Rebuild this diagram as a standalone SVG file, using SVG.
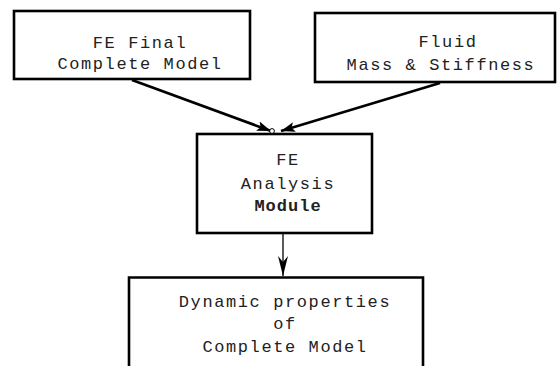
<svg xmlns="http://www.w3.org/2000/svg" width="558" height="366" viewBox="0 0 558 366">
  <style>
    .box { fill: #fff; stroke: #000; stroke-width: 2.6; }
    .lbl { font-family: "Liberation Mono", "Courier New", monospace; font-size: 17px; letter-spacing: 1.6px; fill: #222; text-anchor: middle; }
    .bold { font-weight: bold; letter-spacing: 1px; }
    .edge { stroke: #000; stroke-width: 2.6; fill: none; }
    .thin { stroke: #000; stroke-width: 1.3; fill: none; }
  </style>
  <defs>
    <marker id="head" viewBox="0 0 14 10" refX="14" refY="5" markerWidth="14" markerHeight="10" orient="auto" markerUnits="userSpaceOnUse">
      <path d="M0,0 L14,5 L0,10 L3,5 Z" fill="#000"/>
    </marker>
    <marker id="headThin" viewBox="0 0 20 10" refX="20" refY="5" markerWidth="20" markerHeight="10" orient="auto" markerUnits="userSpaceOnUse">
      <path d="M0,0 L20,5 L0,10 L6,5 Z" fill="#000"/>
    </marker>
  </defs>

  <g id="fe-final">
    <rect class="box" x="14" y="11" width="236" height="68"/>
    <text class="lbl" x="140" y="48">FE Final</text>
    <text class="lbl" x="140" y="69">Complete Model</text>
  </g>

  <g id="fluid">
    <rect class="box" x="315" y="13" width="240" height="69"/>
    <text class="lbl" x="448" y="47">Fluid</text>
    <text class="lbl" x="441" y="70">Mass &amp; Stiffness</text>
  </g>

  <g id="fe-analysis">
    <rect class="box" x="197" y="134" width="175" height="99"/>
    <text class="lbl" x="288" y="165">FE</text>
    <text class="lbl" x="288" y="189">Analysis</text>
    <text class="lbl bold" x="288" y="211">Module</text>
  </g>

  <g id="dynamic-properties">
    <path class="box" d="M129,366 V277.5 H423 V366"/>
    <text class="lbl" x="285" y="307">Dynamic properties</text>
    <text class="lbl" x="285" y="329">of</text>
    <text class="lbl" x="285" y="352">Complete Model</text>
  </g>

  <g id="connectors">
    <line class="edge" x1="132" y1="80" x2="271" y2="131" marker-end="url(#head)"/>
    <line class="edge" x1="440" y1="83" x2="281" y2="131" marker-end="url(#head)"/>
    <circle cx="272" cy="131" r="2.4" fill="#fff" stroke="#000" stroke-width="1"/>
    <line class="thin" x1="283" y1="234" x2="283" y2="276" marker-end="url(#headThin)"/>
  </g>
</svg>
